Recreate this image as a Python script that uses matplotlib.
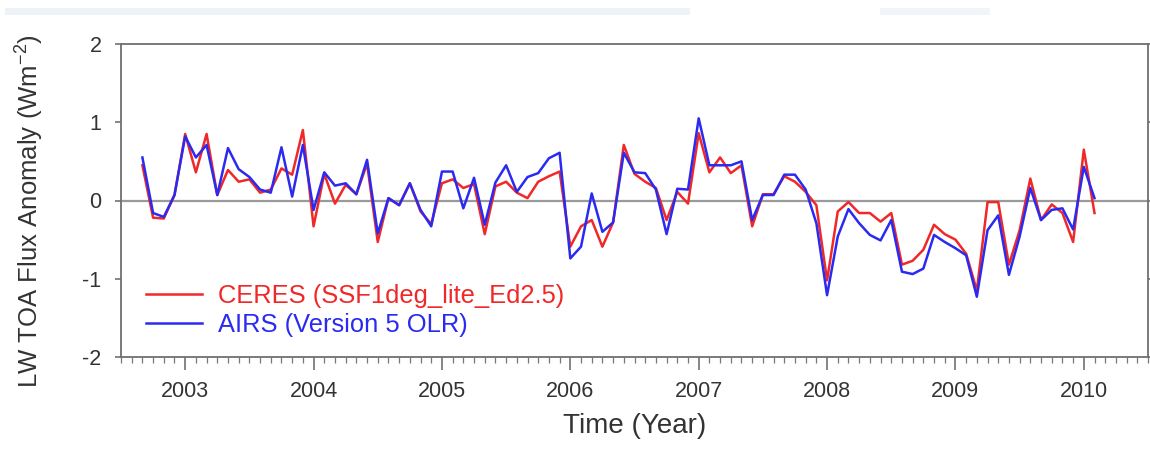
import numpy as np
import matplotlib
matplotlib.use("Agg")
import matplotlib.pyplot as plt
from matplotlib.ticker import MultipleLocator, FixedLocator
from matplotlib.patches import Rectangle

plt.rcParams['font.family'] = ['Liberation Sans', 'DejaVu Sans']
plt.rcParams['axes.unicode_minus'] = False
plt.rcParams['mathtext.fontset'] = 'custom'
plt.rcParams['mathtext.rm'] = 'Liberation Sans'
plt.rcParams['mathtext.default'] = 'regular'

# monthly series, Sep 2002 .. Feb 2010
start_year = 2002
start_month = 9
ceres_label = "CERES (SSF1deg_lite_Ed2.5)"
airs_label = "AIRS (Version 5 OLR)"

ceres = [
    0.45, -0.22, -0.23, 0.07,
    0.85, 0.36, 0.85, 0.07, 0.39, 0.24, 0.27, 0.10, 0.14, 0.41, 0.33, 0.90,
    -0.33, 0.34, -0.04, 0.20, 0.08, 0.47, -0.53, 0.03, -0.06, 0.22, -0.14, -0.30,
    0.22, 0.27, 0.16, 0.21, -0.43, 0.18, 0.24, 0.10, 0.03, 0.24, 0.31, 0.37,
    -0.59, -0.33, -0.25, -0.59, -0.28, 0.71, 0.34, 0.24, 0.16, -0.25, 0.11, -0.04,
    0.86, 0.36, 0.55, 0.35, 0.45, -0.33, 0.08, 0.08, 0.31, 0.24, 0.11, -0.06,
    -1.02, -0.14, -0.02, -0.16, -0.16, -0.27, -0.16, -0.82, -0.77, -0.63, -0.31, -0.43,
    -0.50, -0.68, -1.15, -0.02, -0.02, -0.82, -0.38, 0.28, -0.25, -0.05, -0.16, -0.53,
    0.65, -0.16,
]
airs = [
    0.55, -0.16, -0.21, 0.07,
    0.82, 0.55, 0.71, 0.07, 0.67, 0.40, 0.30, 0.14, 0.10, 0.68, 0.05, 0.71,
    -0.12, 0.36, 0.19, 0.22, 0.08, 0.52, -0.42, 0.03, -0.06, 0.22, -0.12, -0.33,
    0.37, 0.37, -0.10, 0.29, -0.31, 0.23, 0.45, 0.11, 0.30, 0.35, 0.54, 0.61,
    -0.74, -0.59, 0.09, -0.40, -0.28, 0.61, 0.36, 0.35, 0.14, -0.43, 0.15, 0.14,
    1.05, 0.45, 0.45, 0.45, 0.50, -0.25, 0.07, 0.07, 0.33, 0.33, 0.14, -0.29,
    -1.21, -0.46, -0.11, -0.29, -0.44, -0.51, -0.25, -0.91, -0.94, -0.87, -0.44, -0.53,
    -0.61, -0.70, -1.23, -0.38, -0.19, -0.95, -0.46, 0.16, -0.25, -0.12, -0.10, -0.37,
    0.43, 0.03,
]
year_ticks = [2003, 2004, 2005, 2006, 2007, 2008, 2009, 2010]
y_ticks = [-2, -1, 0, 1, 2]

t = start_year + (start_month - 1) / 12 + np.arange(len(ceres)) / 12

W, H = 1150, 454
fig = plt.figure(figsize=(W / 100, H / 100), dpi=100)
ax = fig.add_axes([121 / W, 1 - 357 / H, (1148 - 121) / W, (357 - 44) / H])

# faint presentation band at top
fig.patches.append(Rectangle((5 / W, 1 - 15 / H), 685 / W, 7 / H, transform=fig.transFigure,
                             facecolor='#eef3f9', edgecolor='none', zorder=0))
fig.patches.append(Rectangle((880 / W, 1 - 15 / H), 110 / W, 7 / H, transform=fig.transFigure,
                             facecolor='#f1f5fa', edgecolor='none', zorder=0))

ax.axhline(0, color='#9a9a9a', lw=1.6, zorder=1)
ax.plot(t, ceres, color='#f02828', lw=1.8, label=ceres_label, zorder=3)
ax.plot(t, airs, color='#2a2af0', lw=1.8, label=airs_label, zorder=4)

ax.set_xlim(2002.5, 2010.5)
ax.set_ylim(-2, 2)
ax.xaxis.set_major_locator(FixedLocator(year_ticks))
ax.xaxis.set_minor_locator(MultipleLocator(1 / 12))
ax.yaxis.set_major_locator(FixedLocator(y_ticks))
ax.set_xticklabels([str(y) for y in year_ticks])
ax.set_yticklabels([str(v) for v in y_ticks])

for s in ax.spines.values():
    s.set_color('#707070')
    s.set_linewidth(1.3)

ax.tick_params(axis='x', which='major', direction='out', length=9.5, width=1.1,
               color='#666666', labelsize=15.5, labelcolor='#333333', pad=8)
ax.tick_params(axis='x', which='minor', direction='out', length=4, width=0.9, color='#777777')
ax.tick_params(axis='y', which='major', direction='out', length=4, width=1.1,
               color='#666666', labelsize=15.5, labelcolor='#333333', pad=10,
               right=True)
ax.tick_params(axis='y', which='major', labelright=False)

ax.set_xlabel('Time (Year)', fontsize=20, color='#333333', labelpad=8)
fig.text(46 / W, 1 - 211 / H, r'LW TOA Flux Anomaly (Wm$^{-2}$)', rotation=90,
         ha='right', va='center', fontsize=18.5, color='#333333')

leg = ax.legend(loc='center left', bbox_to_anchor=((146 - 121) / 1027, (357 - 310.5) / 313),
                frameon=False, fontsize=18.4, handlelength=2.2, handletextpad=0.6,
                labelspacing=0.2, borderpad=0, borderaxespad=0, labelcolor='linecolor')

fig.savefig('out.png', dpi=100)
